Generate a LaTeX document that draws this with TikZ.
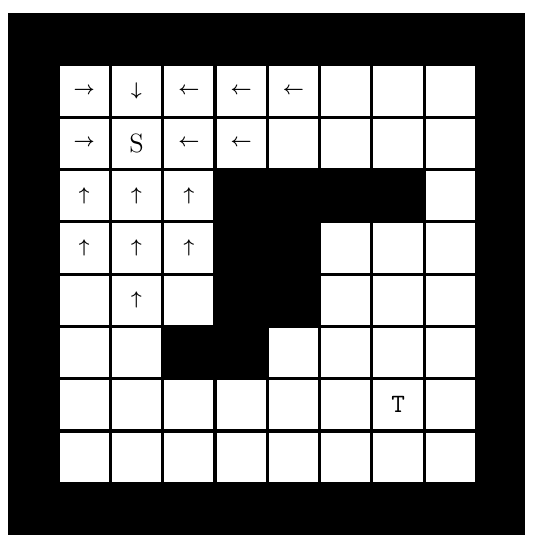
\documentclass[tikz,border=0pt]{standalone}
\begin{document}
\begin{tikzpicture}[x=1cm, y=-1cm,
  cell/.style={fill=white, minimum size=9.4mm, inner sep=0pt},
  wall/.style={fill=black, minimum size=10mm, inner sep=0pt},
  dirmark/.style={inner sep=0pt}]
  \useasboundingbox[fill=white] (-1.11,-1.24) rectangle (9.08,9.16);
  \fill[black] (-0.96,-0.99) rectangle (8.93,8.99);
  % free cells
  \foreach \r in {0,...,7}
    \foreach \c in {0,...,7}
      \node[cell] (c\r\c) at (\c+0.5,\r+0.5) {};
  % obstacle
  \foreach \r/\c in {2/3,2/4,2/5,2/6,3/3,3/4,4/3,4/4,5/2,5/3}
    \node[wall] (w\r\c) at (\c+0.5,\r+0.5) {};
  % search directions
  \foreach \r/\c/\a in {0/0/\rightarrow, 0/1/\downarrow, 0/2/\leftarrow, 0/3/\leftarrow,
      0/4/\leftarrow, 1/0/\rightarrow, 1/2/\leftarrow, 1/3/\leftarrow,
      2/0/\uparrow, 2/1/\uparrow, 2/2/\uparrow, 3/0/\uparrow, 3/1/\uparrow,
      3/2/\uparrow, 4/1/\uparrow}
    \node[dirmark, font=\boldmath] (a\r\c) at (c\r\c) {$\a$};
  \node[dirmark, font=\Large] (start) at (c11) {S};
  \node[dirmark, font=\Large\ttfamily] (target) at (c66) {T};
\end{tikzpicture}
\end{document}
